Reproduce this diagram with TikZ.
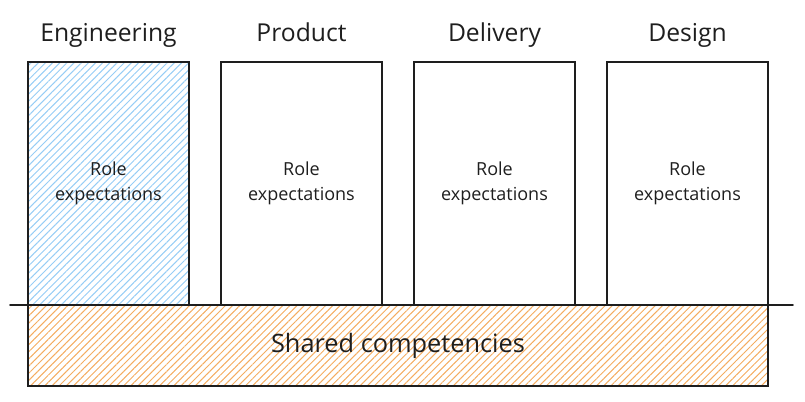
\documentclass[tikz,border=0pt]{standalone}
\usepackage{fontspec}
\setmainfont{Open Sans}
\usepackage{tikz}
\usetikzlibrary{positioning,patterns.meta}
\definecolor{ink}{RGB}{30,30,30}
\definecolor{hatchblue}{RGB}{150,205,245}
\definecolor{hatchorange}{RGB}{244,172,96}

\begin{document}
\begin{tikzpicture}[
    x=0.75pt, y=0.75pt,
    node distance = 24pt,
    rolebox/.style = {draw=ink, line width=1.3pt, minimum width=120.75pt,
                      minimum height=182.25pt, outer sep=0pt, align=center,
                      font=\fontsize{13.5}{19}\selectfont, text=ink},
    title/.style   = {font=\fontsize{18.5}{22}\selectfont, text=ink, inner sep=0pt,
                      text height=0.75em, text depth=0.25em},
    shared/.style  = {draw=ink, line width=1.3pt, minimum width=555pt,
                      minimum height=60.75pt, outer sep=0pt,
                      font=\fontsize{19}{22}\selectfont, text=ink,
                      pattern={Lines[angle=45, distance=3.8pt, line width=0.75pt]},
                      pattern color=hatchorange},
    baseline/.style = {draw=ink, line width=1.3pt, line cap=round},
  ]
    \useasboundingbox (0,0) rectangle (805,402);

    % role columns
    \node[rolebox, pattern={Lines[angle=45, distance=3.8pt, line width=0.75pt]},
          pattern color=hatchblue] (eng) at (108.5,218.5) {Role\\expectations};
    \node[rolebox, right=of eng]  (prod) {Role\\expectations};
    \node[rolebox, right=of prod] (del)  {Role\\expectations};
    \node[rolebox, right=of del]  (des)  {Role\\expectations};

    \node[title, above=13pt of eng]  (engt)  {Engineering};
    \node[title, above=13pt of prod] (prodt) {Product};
    \node[title, above=13pt of del]  (delt)  {Delivery};
    \node[title, above=13pt of des]  (dest)  {Design};

    % shared layer
    \node[shared, anchor=north west] (sh) at (eng.south west) {Shared competencies};

    \coordinate[left=13.5pt of sh.north west]  (gl);
    \coordinate[right=18.75pt of sh.north east] (gr);
    \draw[baseline] (gl) -- (gr);
  \end{tikzpicture}
\end{document}
